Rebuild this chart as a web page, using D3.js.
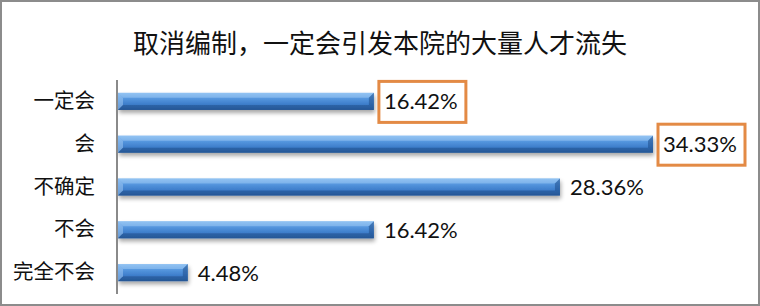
<!DOCTYPE html>
<html>
<head>
<meta charset="utf-8">
<script src="https://cdn.jsdelivr.net/npm/d3@7"></script>
<style>
  html, body { margin: 0; padding: 0; background: #fff; }
  svg { display: block; }
</style>
</head>
<body>
<svg id="chart" width="760" height="306"></svg>
<script>
// Survey answers and their shares (%)
const categories = ["一定会", "会", "不确定", "不会", "完全不会"];
const values = [16.42, 34.33, 28.36, 16.42, 4.48];
const boxedLabels = ["一定会", "会"];
const title = "取消编制，一定会引发本院的大量人才流失";

const W = 760, H = 306;
const svg = d3.select("#chart");
const margin = { left: 118, top: 80, bottom: 12 };

// Outer frame
svg.append("rect")
  .attr("x", 1).attr("y", 1).attr("width", W - 2).attr("height", H - 2)
  .attr("fill", "#fff").attr("stroke", "#8c8c8c").attr("stroke-width", 2);

// Title
svg.append("text")
  .attr("x", 380).attr("y", 53)
  .attr("text-anchor", "middle")
  .attr("font-family", "'Noto Sans CJK SC', sans-serif")
  .attr("font-size", 26)
  .attr("fill", "#111")
  .text(title);

const x = d3.scaleLinear().domain([0, 34.33]).range([margin.left, 653]);
const y = d3.scaleBand().domain(categories)
  .range([margin.top, H - margin.bottom]).paddingInner(0.6).paddingOuter(0.3);

// Gradients and shadow
const defs = svg.append("defs");
const g1 = defs.append("linearGradient").attr("id", "barGrad")
  .attr("x1", 0).attr("y1", 0).attr("x2", 0).attr("y2", 1);
g1.append("stop").attr("offset", "0%").attr("stop-color", "#80b8f0");
g1.append("stop").attr("offset", "30%").attr("stop-color", "#5899e0");
g1.append("stop").attr("offset", "65%").attr("stop-color", "#3f7fcc");
g1.append("stop").attr("offset", "100%").attr("stop-color", "#2d62a3");

const shadow = defs.append("filter").attr("id", "barShadow")
  .attr("x", "-5%").attr("y", "-30%").attr("width", "115%").attr("height", "190%");
shadow.append("feGaussianBlur").attr("in", "SourceAlpha").attr("stdDeviation", 2);
shadow.append("feOffset").attr("dx", 1).attr("dy", 3).attr("result", "ob");
shadow.append("feComponentTransfer").append("feFuncA").attr("type", "linear").attr("slope", 0.35);
const merge = shadow.append("feMerge");
merge.append("feMergeNode");
merge.append("feMergeNode").attr("in", "SourceGraphic");

const rows = categories.map((c, i) => ({ cat: c, val: values[i] }));

// Bars with bevelled ends
const bars = svg.append("g").selectAll("g").data(rows).join("g")
  .attr("filter", "url(#barShadow)");

bars.append("rect")
  .attr("x", x(0))
  .attr("y", d => y(d.cat))
  .attr("width", d => x(d.val) - x(0))
  .attr("height", y.bandwidth())
  .attr("fill", "url(#barGrad)");

const bev = 5;
// left bevel highlight
bars.append("path")
  .attr("d", d => {
    const x0 = x(0), y0 = y(d.cat), h = y.bandwidth();
    return `M${x0},${y0} L${x0 + bev},${y0 + bev} L${x0 + bev},${y0 + h - bev} L${x0},${y0 + h} Z`;
  })
  .attr("fill", "#9cc6f2").attr("opacity", 0.55);
// top bevel highlight
bars.append("path")
  .attr("d", d => {
    const x0 = x(0), x1 = x(d.val), y0 = y(d.cat);
    return `M${x0},${y0} L${x1},${y0} L${x1 - bev},${y0 + bev} L${x0 + bev},${y0 + bev} Z`;
  })
  .attr("fill", "#a9d0f7").attr("opacity", 0.45);
// right bevel shade
bars.append("path")
  .attr("d", d => {
    const x1 = x(d.val), y0 = y(d.cat), h = y.bandwidth();
    return `M${x1},${y0} L${x1},${y0 + h} L${x1 - bev},${y0 + h - bev} L${x1 - bev},${y0 + bev} Z`;
  })
  .attr("fill", "#1f4f8c").attr("opacity", 0.55);
// bottom bevel shade
bars.append("path")
  .attr("d", d => {
    const x0 = x(0), x1 = x(d.val), y0 = y(d.cat), h = y.bandwidth();
    return `M${x0},${y0 + h} L${x1},${y0 + h} L${x1 - bev},${y0 + h - bev} L${x0 + bev},${y0 + h - bev} Z`;
  })
  .attr("fill", "#1d4a85").attr("opacity", 0.45);

// Category axis
const axis = svg.append("g")
  .attr("transform", `translate(${x(0) - 1},0)`)
  .call(d3.axisLeft(y).tickSize(0).tickPadding(22));
axis.select(".domain").attr("stroke", "#8a8a8a").attr("stroke-width", 2)
  .attr("d", `M0,${margin.top}V${H - margin.bottom}`);
axis.selectAll("text")
  .attr("font-family", "'Noto Sans CJK SC', sans-serif")
  .attr("font-size", 20.5)
  .attr("fill", "#111");

// Value labels
const labels = svg.append("g").selectAll("g").data(rows).join("g")
  .attr("transform", d => `translate(${x(d.val) + 10},${y(d.cat) + y.bandwidth() / 2})`);

labels.filter(d => boxedLabels.includes(d.cat))
  .append("rect")
  .attr("x", -5).attr("y", -20).attr("width", 87).attr("height", 41)
  .attr("fill", "none").attr("stroke", "#e38a45").attr("stroke-width", 3);

labels.append("text")
  .attr("dy", "0.36em")
  .attr("font-family", "Lato, 'Open Sans', sans-serif")
  .attr("font-size", 22)
  .attr("fill", "#111")
  .text(d => d.val.toFixed(2) + "%");
</script>
</body>
</html>
